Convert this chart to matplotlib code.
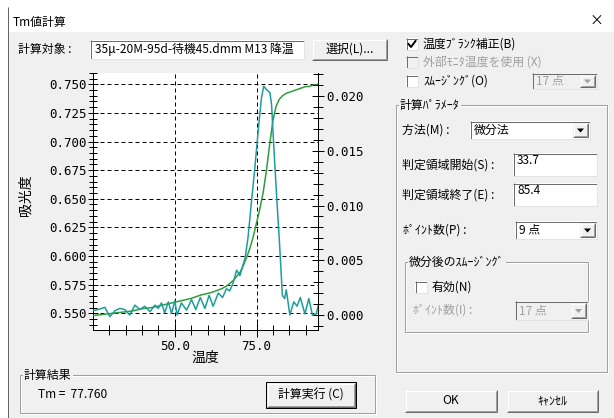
import matplotlib

matplotlib.use("Agg")

import matplotlib.pyplot as plt
from matplotlib.patches import Polygon, Rectangle
from matplotlib.ticker import FormatStrFormatter, MultipleLocator

plt.rcParams["font.family"] = ["Noto Sans CJK JP", "DejaVu Sans"]

# 吸光度 (左軸)
temp_abs = [25, 28, 31, 34, 37, 40, 43, 46, 49, 52, 55, 58, 61, 64, 66, 68,
            70, 71, 72, 73, 74, 75, 76, 77, 78, 79, 80, 81, 82, 83, 84, 85,
            86, 87, 88, 89, 90, 91, 92, 93.8]
absorbance = [0.548, 0.549, 0.550, 0.551, 0.552, 0.554, 0.555, 0.557, 0.559,
              0.561, 0.563, 0.566, 0.568, 0.571, 0.574, 0.579, 0.586, 0.592,
              0.599, 0.607, 0.617, 0.629, 0.641, 0.655, 0.674, 0.697, 0.718,
              0.731, 0.737, 0.740, 0.742, 0.743, 0.744, 0.745, 0.746, 0.747,
              0.748, 0.748, 0.749, 0.750]

# 微分値 (右軸)
temp_diff = [25.0, 26.6, 28.6, 30.1, 31.7, 33.2, 34.7, 36.2, 37.8, 39.3, 40.8,
             42.4, 43.9, 44.9, 45.9, 46.9, 48.0, 49.0, 50.0, 50.7, 52.0, 53.6,
             55.1, 56.4, 57.8, 59.2, 60.5, 61.7, 63.3, 64.6, 65.8, 66.8, 67.8,
             68.9, 69.9, 70.7, 71.5, 72.4, 73.4, 74.5, 75.5, 76.5, 77.2, 78.0,
             79.1, 79.6, 80.3, 81.1, 82.1, 82.9, 83.6, 84.1, 85.2, 86.4, 87.4,
             88.4, 89.8, 91.0, 92.1, 93.3, 93.8]
derivative = [0.0004, 0.0005, 0.0007, -0.00015, 0.0004, 0.0006, 0.0005, 0.0,
              0.0009, 0.0005, 0.0008, 0.0003, 0.0009, 0.0006, 0.0011, 0.0002,
              0.0012, 0.00015, 0.0013, 0.0, 0.0011, 0.00045, 0.0014, 0.0005,
              0.0016, 0.0006, 0.0018, 0.0008, 0.0020, 0.0016, 0.0024, 0.0022,
              0.0029, 0.0041, 0.0036, 0.0044, 0.0052, 0.0071, 0.0102, 0.0135,
              0.0168, 0.0198, 0.0209, 0.0206, 0.0203, 0.0192, 0.0153, 0.0111,
              0.0062, 0.0018, 0.0015, 0.0023, 0.0, 0.0012, 0.0008, 0.0016,
              0.0001, 0.0015, 0.0, 0.0001, 0.0008]

W, H = 614, 418
BG = "#f0f0f0"
FS = 8.6
GRAY_TXT = "#a0a0a0"

fig = plt.figure(figsize=(W / 100, H / 100), dpi=100)
fig.patch.set_facecolor(BG)

ui = fig.add_axes([0, 0, 1, 1])
ui.set_xlim(0, W)
ui.set_ylim(H, 0)
ui.axis("off")
ui.set_zorder(0)


def rect(x0, y0, x1, y1, face, edge="none", z=1):
    ui.add_patch(Rectangle((x0, y0), x1 - x0, y1 - y0, facecolor=face,
                           edgecolor=edge, linewidth=0.72, zorder=z))


def hline(x0, x1, y, color, z=2):
    ui.plot([x0, x1], [y, y], color=color, lw=0.72, solid_capstyle="butt", zorder=z)


def vline(x, y0, y1, color, z=2):
    ui.plot([x, x], [y0, y1], color=color, lw=0.72, solid_capstyle="butt", zorder=z)


def text(x, y, s, color="black", ha="left", size=FS, **kw):
    ui.text(x, y, s, color=color, ha=ha, va="center", fontsize=size, zorder=5, **kw)


def sunken(x0, y0, x1, y1, face="white"):
    rect(x0, y0, x1, y1, face)
    hline(x0, x1, y0 + 0.5, "#6d6d6d")
    vline(x0 + 0.5, y0, y1, "#6d6d6d")
    hline(x0, x1, y1 - 0.5, "#e3e3e3")
    vline(x1 - 0.5, y0, y1, "#e3e3e3")


def raised(x0, y0, x1, y1, default=False):
    rect(x0, y0, x1, y1, BG)
    hline(x0, x1, y0 + 0.5, "white")
    vline(x0 + 0.5, y0, y1, "white")
    hline(x0, x1, y1 - 0.5, "#696969")
    vline(x1 - 0.5, y0, y1, "#696969")
    hline(x0 + 1, x1 - 1, y1 - 1.5, "#a0a0a0")
    vline(x1 - 1.5, y0 + 1, y1 - 1, "#a0a0a0")
    if default:
        rect(x0 - 1, y0 - 1, x1 + 1, y1 + 1, "none", edge="black", z=3)


def button(x0, y0, x1, y1, label, default=False):
    raised(x0, y0, x1, y1, default)
    text((x0 + x1) / 2, (y0 + y1) / 2, label, ha="center")


def group(x0, y0, x1, y1, label):
    rect(x0 + 1, y0 + 1, x1 + 1, y1 + 1, "none", edge="white")
    rect(x0, y0, x1, y1, "none", edge="#a0a0a0")
    ui.text(x0 + 4, y0, label, fontsize=FS, va="center", ha="left", zorder=5,
            bbox=dict(facecolor=BG, edgecolor="none", pad=1))


def combo(x0, y0, x1, y1, label, enabled=True):
    sunken(x0, y0, x1, y1, "white" if enabled else BG)
    raised(x1 - 17, y0 + 2, x1 - 2, y1 - 2)
    cx, cy = x1 - 9.5, (y0 + y1) / 2
    ui.add_patch(Polygon([(cx - 3.5, cy - 1.5), (cx + 3.5, cy - 1.5), (cx, cy + 2.5)],
                         closed=True, facecolor="black" if enabled else GRAY_TXT,
                         edgecolor="none", zorder=4))
    text(x0 + 4, cy, label, color="black" if enabled else GRAY_TXT)


def checkbox(x, y, label, checked=False, enabled=True):
    sunken(x, y - 6, x + 12, y + 6, "white" if enabled else BG)
    if checked:
        ui.plot([x + 2.5, x + 5, x + 9.5], [y, y + 3, y - 3], color="black",
                lw=1.4, zorder=4)
    text(x + 17, y, label, color="black" if enabled else GRAY_TXT)


# ウィンドウ枠とタイトルバー
rect(0, 0, W, 32, "white")
rect(0, 0, 8, H, "white")
vline(7.5, 7, H, "#646464")
text(13, 22, "Tm値計算")
text(596, 21, "×", ha="center", size=10)

# 計算対象
text(18, 49, "計算対象 :")
sunken(90, 40, 304, 59)
text(95, 49.5, "35μ-20M-95d-待機45.dmm M13 降温")
button(312, 39, 387, 60, "選択(L)...")

# 右側の設定
checkbox(406, 44, "温度ﾌﾞﾗﾝｸ補正(B)", checked=True)
checkbox(406, 62, "外部ﾓﾆﾀ温度を使用 (X)", enabled=False)
checkbox(406, 81, "ｽﾑｰｼﾞﾝｸﾞ(O)")
combo(532, 73, 597, 89, "17 点", enabled=False)

group(396, 105, 607, 372, "計算ﾊﾟﾗﾒｰﾀ")
text(402, 130, "方法(M) :")
combo(470, 121, 590, 139, "微分法")
text(402, 165, "判定領域開始(S) :")
sunken(513, 153, 597, 176)
text(517, 160, "33.7")
text(402, 195, "判定領域終了(E) :")
sunken(513, 183, 597, 206)
text(517, 190, "85.4")
text(403, 230, "ﾎﾟｲﾝﾄ数(P) :")
combo(515, 221, 597, 239, "9 点")

group(405, 262, 588, 332, "微分後のｽﾑｰｼﾞﾝｸﾞ")
checkbox(415, 287, "有効(N)")
text(413, 310, "ﾎﾟｲﾝﾄ数(I) :", color=GRAY_TXT)
combo(515, 301, 588, 320, "17 点", enabled=False)

button(405, 390, 497, 412, "OK")
button(507, 390, 598, 412, "ｷｬﾝｾﾙ")

# 計算結果
group(20, 375, 375, 413, "計算結果")
text(38, 395, "Tm =  77.760")
button(267, 383, 355, 407, "計算実行 (C)", default=True)

# グラフ
ax = fig.add_axes([93.3 / W, 1 - 330 / H, (318.3 - 93.3) / W, (330 - 72.7) / H])
ax.set_zorder(1)
ax.set_facecolor("white")
ax2 = ax.twinx()
ax2.set_zorder(2)
ax2.patch.set_visible(False)

ax.plot(temp_abs, absorbance, color="#2e9e3a", lw=1.1, zorder=3)
ax2.plot(temp_diff, derivative, color="#1f9c9c", lw=1.1, zorder=3)

ax.set_xlim(25.05, 93.9)
ax.set_ylim(0.5354, 0.7601)
ax2.set_ylim(-0.00137, 0.02213)

ax.xaxis.set_major_locator(MultipleLocator(25))
ax.xaxis.set_minor_locator(MultipleLocator(5))
ax.yaxis.set_major_locator(MultipleLocator(0.025))
ax.yaxis.set_minor_locator(MultipleLocator(0.005))
ax2.yaxis.set_major_locator(MultipleLocator(0.005))
ax2.yaxis.set_minor_locator(MultipleLocator(0.001))
ax.xaxis.set_major_formatter(FormatStrFormatter("%.1f"))
ax.yaxis.set_major_formatter(FormatStrFormatter("%.3f"))
ax2.yaxis.set_major_formatter(FormatStrFormatter("%.3f"))

ax.grid(True, which="major", color="black", linestyle=(0, (4, 3)), linewidth=0.72)

for spine in ("top", "right"):
    ax.spines[spine].set_visible(False)
for spine in ("top", "left", "bottom"):
    ax2.spines[spine].set_visible(False)
for a in (ax, ax2):
    for s in a.spines.values():
        s.set_linewidth(0.72)
        s.set_color("black")

ax.tick_params(axis="x", which="major", direction="inout", length=10, width=0.72, pad=2)
ax.tick_params(axis="x", which="minor", direction="inout", length=6.5, width=0.72)
ax.tick_params(axis="y", which="major", direction="inout", length=7.2, width=0.72, pad=1.4)
ax.tick_params(axis="y", which="minor", direction="inout", length=5.8, width=0.72)
ax2.tick_params(axis="y", which="major", direction="inout", length=8.8, width=0.72, pad=1.0)
ax2.tick_params(axis="y", which="minor", direction="inout", length=6.5, width=0.72)
for lab in ax.get_xticklabels() + ax.get_yticklabels() + ax2.get_yticklabels():
    lab.set_fontfamily("DejaVu Sans Mono")
    lab.set_fontsize(9)

ax.set_xlabel("温度", fontsize=10)
ax.xaxis.set_label_coords(0.5, (330 - 358) / (330 - 72.7))
ax.xaxis.label.set_va("center")
ax.set_ylabel("吸光度", fontsize=10)
ax.yaxis.set_label_coords((25 - 93.3) / 225, 1 - (195 - 72.7) / (330 - 72.7))
ax.yaxis.label.set_va("center")

fig.savefig("out.png", dpi=100, facecolor=BG)
